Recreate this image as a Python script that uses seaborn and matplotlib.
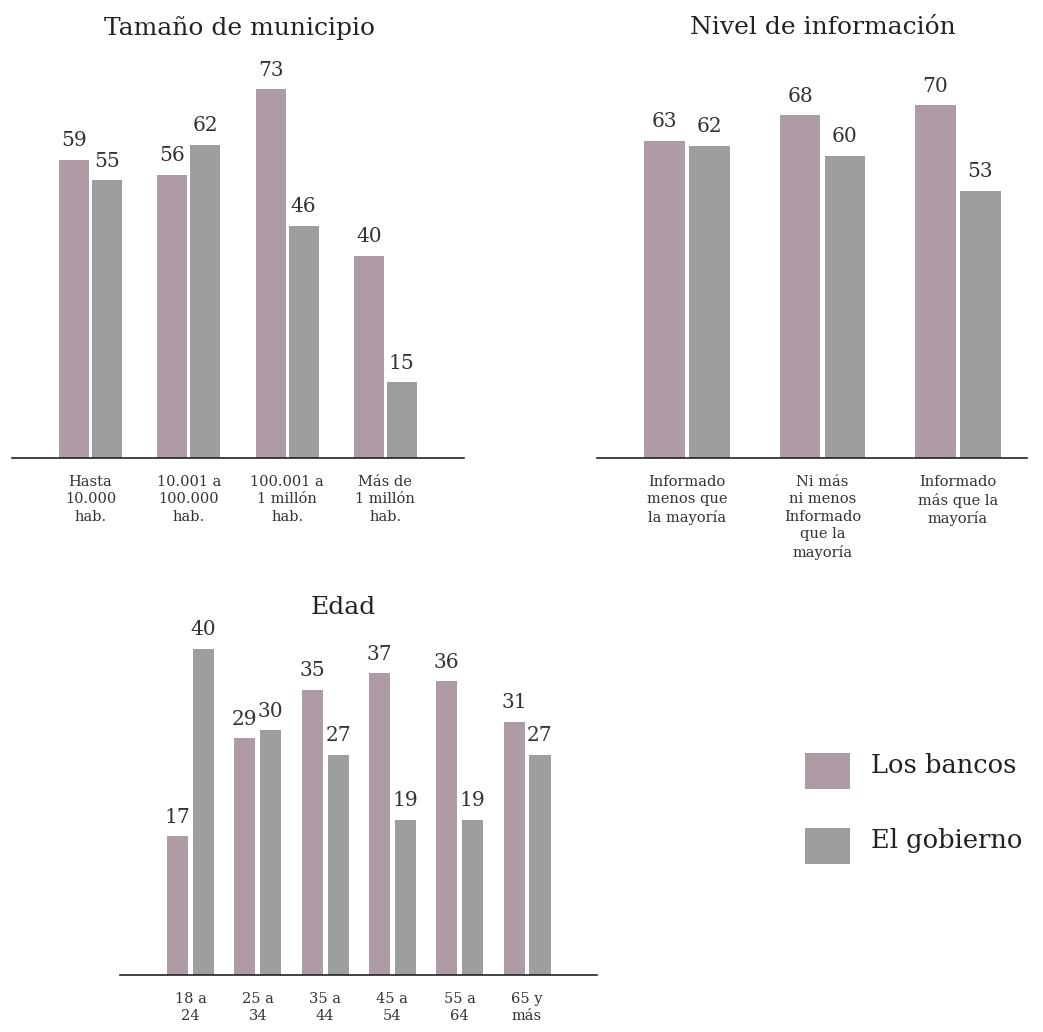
import matplotlib
matplotlib.use("Agg")
import matplotlib.pyplot as plt
from matplotlib.patches import Rectangle
import seaborn as sns
import pandas as pd

# ---- data ----
series_names = ["Los bancos", "El gobierno"]
colors = ["#ae9ba6", "#9d9ea0"]

tam_title = "Tamaño de municipio"
tam_cats = ["Hasta\n10.000\nhab.", "10.001 a\n100.000\nhab.", "100.001 a\n1 millón\nhab.", "Más de\n1 millón\nhab."]
tam_bancos = [59, 56, 73, 40]
tam_gobierno = [55, 62, 46, 15]

info_title = "Nivel de información"
info_cats = ["Informado\nmenos que\nla mayoría", "Ni más\nni menos\nInformado\nque la\nmayoría", "Informado\nmás que la\nmayoría"]
info_bancos = [63, 68, 70]
info_gobierno = [62, 60, 53]

edad_title = "Edad"
edad_cats = ["18 a\n24", "25 a\n34", "35 a\n44", "45 a\n54", "55 a\n64", "65 y\nmás"]
edad_bancos = [17, 29, 35, 37, 36, 31]
edad_gobierno = [40, 30, 27, 19, 19, 27]

sns.set_style("white")
FONT = ["DejaVu Serif"]
plt.rcParams["font.family"] = FONT
TXT = "#333333"

W, H = 1043, 1032
fig = plt.figure(figsize=(W / 100, H / 100), dpi=100)


def px_axes(left, right, baseline, top):
    return fig.add_axes([left / W, (H - baseline) / H, (right - left) / W, (baseline - top) / H])


def long_df(cats, a, b):
    rows = []
    for c, v in zip(cats, a):
        rows.append((c, v, series_names[0]))
    for c, v in zip(cats, b):
        rows.append((c, v, series_names[1]))
    return pd.DataFrame(rows, columns=["cat", "val", "serie"])


def panel(ax, cats, a, b, width, gap, xlim, ylim, title, title_xy):
    df = long_df(cats, a, b)
    sns.barplot(data=df, x="cat", y="val", hue="serie", order=cats, hue_order=series_names,
                palette=colors, width=width, gap=gap, ax=ax, legend=False, saturation=1,
                linewidth=0)
    ax.set_xlim(*xlim)
    ax.set_ylim(*ylim)
    for c in ax.containers:
        ax.bar_label(c, padding=7, fontsize=14.5, color=TXT, fontfamily=FONT)
    for s in ["top", "right", "left"]:
        ax.spines[s].set_visible(False)
    ax.spines["bottom"].set_color("#222222")
    ax.spines["bottom"].set_linewidth(1.2)
    ax.set_yticks([])
    ax.set_xlabel("")
    ax.set_ylabel("")
    ax.tick_params(axis="x", length=0, pad=12, labelsize=10.5, labelcolor=TXT)
    for lab in ax.get_xticklabels():
        lab.set_linespacing(1.32)
    fig.text(title_xy[0] / W, 1 - title_xy[1] / H, title, ha="center", va="center",
             fontsize=18, color="#222222")


ax1 = px_axes(12, 464, 458, 54)
panel(ax1, tam_cats, tam_bancos, tam_gobierno, 0.67, 0.09, (-0.8, 3.8), (0, 80),
      tam_title, (239.5, 28))

ax2 = px_axes(597, 1027, 458, 54)
panel(ax2, info_cats, info_bancos, info_gobierno, 0.664, 0.09, (-0.664, 2.509), (0, 80.2),
      info_title, (823, 28))

ax3 = px_axes(120, 597, 975, 608)
panel(ax3, edad_cats, edad_bancos, edad_gobierno, 0.772, 0.19, (-1.048, 6.04), (0, 45),
      edad_title, (343, 608))

# legend (manual, top-aligned text as in the original)
leg_tops = [753, 828]
for name, col, top in zip(series_names, colors, leg_tops):
    fig.patches.append(Rectangle((805 / W, 1 - (top + 36) / H), 45 / W, 36 / H,
                                 transform=fig.transFigure, facecolor=col, edgecolor="none"))
    fig.text(871 / W, 1 - (top + 20) / H, name, ha="left", va="baseline",
             fontsize=18.5, color="#222222")

fig.savefig("out.png", dpi=100)
